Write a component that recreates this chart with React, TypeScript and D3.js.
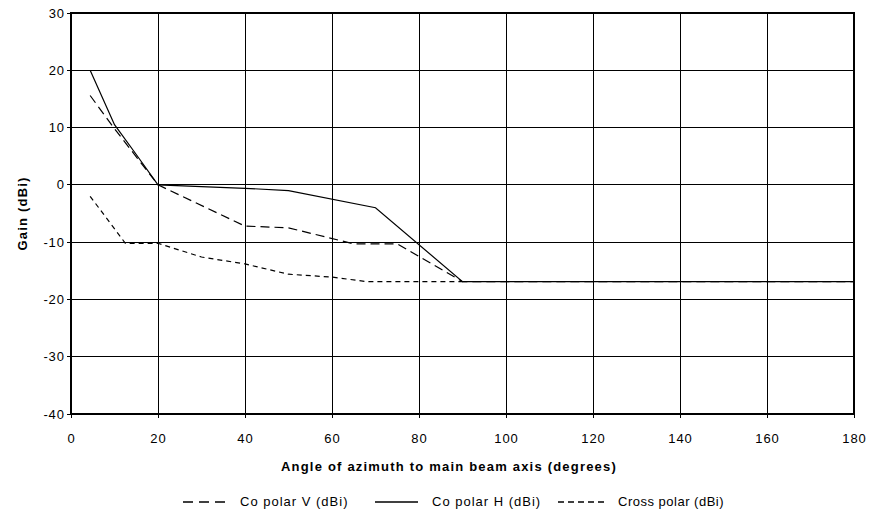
import React from "react";
import * as d3 from "d3";

const xTicks = [0, 20, 40, 60, 80, 100, 120, 140, 160, 180];
const yTicks = [-40, -30, -20, -10, 0, 10, 20, 30];

const coPolarVAngle = [4.4, 10, 20, 40, 50, 65, 75, 90, 180];
const coPolarVGain = [15.6, 9.8, 0, -7.2, -7.5, -10.3, -10.3, -16.9, -16.9];

const coPolarHAngle = [4.4, 10, 15, 20, 40, 50, 70, 90, 180];
const coPolarHGain = [20, 10.5, 5.3, 0, -0.6, -1, -4, -16.9, -16.9];

const crossAngle = [4.4, 12.5, 20, 30, 40, 50, 60, 68, 90];
const crossGain = [-2, -10.2, -10.2, -12.6, -13.8, -15.6, -16.1, -16.9, -16.9];

const seriesNames = ["Co polar V (dBi)", "Co polar H (dBi)", "Cross polar (dBi)"];

const W = 870;
const H = 513;
const left = 71;
const right = 854;
const top = 13;
const bottom = 414;

export default function App() {
  const x = d3.scaleLinear().domain([0, 180]).range([left, right]);
  const y = d3.scaleLinear().domain([-40, 30]).range([bottom, top]);
  const line = d3
    .line<[number, number]>()
    .x((d) => x(d[0]))
    .y((d) => y(d[1]));
  const zip = (a: number[], b: number[]) => a.map((v, i) => [v, b[i]] as [number, number]);

  const series = [
    { data: zip(coPolarVAngle, coPolarVGain), dash: "9,5" },
    { data: zip(coPolarHAngle, coPolarHGain), dash: "" },
    { data: zip(crossAngle, crossGain), dash: "5,4" },
  ];

  const font = "'Liberation Sans', Arial, sans-serif";
  const legendItems = [
    { x1: 183, x2: 227, tx: 240, dash: "10,6" },
    { x1: 375, x2: 418, tx: 432, dash: "" },
    { x1: 558, x2: 605, tx: 618, dash: "6,4" },
  ];
  const ls = 0.9;

  return (
    <svg
      width={W}
      height={H}
      style={{ position: "absolute", left: 0, top: 0, background: "#fff" }}
      fontFamily={font}
    >
      {/* grid */}
      <g shapeRendering="crispEdges">
        {xTicks.map((t) => (
          <line key={"gx" + t} x1={x(t)} x2={x(t)} y1={top} y2={bottom} stroke="#000" strokeWidth={1} />
        ))}
        {yTicks.map((t) => (
          <line key={"gy" + t} x1={left} x2={right} y1={y(t)} y2={y(t)} stroke="#000" strokeWidth={1} />
        ))}
        <rect x={left} y={top} width={right - left} height={bottom - top} fill="none" stroke="#000" strokeWidth={1.5} />
        {yTicks.map((t) => (
          <line key={"tk" + t} x1={left - 4} x2={left} y1={y(t)} y2={y(t)} stroke="#000" />
        ))}
        {xTicks.map((t) => (
          <line key={"tkx" + t} x1={x(t)} x2={x(t)} y1={bottom} y2={bottom + 4} stroke="#000" />
        ))}
      </g>
      {/* tick labels */}
      {yTicks.map((t) => (
        <text key={"ty" + t} x={left - 7 + ls} y={y(t)} dy="0.35em" textAnchor="end" fontSize={13} letterSpacing={ls}>
          {t}
        </text>
      ))}
      {xTicks.map((t) => (
        <text key={"tx" + t} x={x(t) + ls / 2} y={438} dy="0.35em" textAnchor="middle" fontSize={13} letterSpacing={ls}>
          {t}
        </text>
      ))}
      {/* series */}
      {series.map((s, i) => (
        <path
          key={"s" + i}
          d={line(s.data) || ""}
          fill="none"
          stroke="#000"
          strokeWidth={1.2}
          strokeDasharray={s.dash || undefined}
        />
      ))}
      {/* axis titles */}
      <text
        x={449}
        y={466}
        dy="0.35em"
        textAnchor="middle"
        fontSize={13}
        fontWeight="bold"
        letterSpacing={1.2}
      >
        Angle of azimuth to main beam axis (degrees)
      </text>
      <text
        transform={`translate(22,${(top + bottom) / 2}) rotate(-90)`}
        dy="0.35em"
        textAnchor="middle"
        fontSize={13}
        fontWeight="bold"
        letterSpacing={1.2}
      >
        Gain (dBi)
      </text>
      {/* legend */}
      {legendItems.map((l, i) => (
        <g key={"lg" + i}>
          <line
            x1={l.x1}
            x2={l.x2}
            y1={502}
            y2={502}
            stroke="#000"
            strokeWidth={1.3}
            strokeDasharray={l.dash || undefined}
          />
          <text x={l.tx} y={501} dy="0.35em" fontSize={13} letterSpacing={i === 2 ? 0.5 : 1}>
            {seriesNames[i]}
          </text>
        </g>
      ))}
    </svg>
  );
}
